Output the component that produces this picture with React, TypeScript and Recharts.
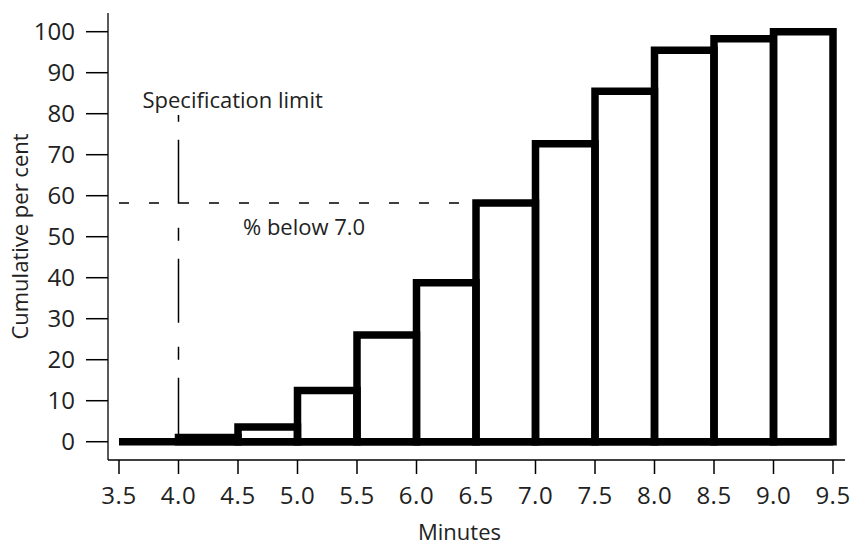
import React from 'react';
import { ComposedChart, XAxis, YAxis, ReferenceArea, ReferenceLine } from 'recharts';

// Cumulative frequency of minutes (bins of 0.5)
const binStarts = [3.5, 4.0, 4.5, 5.0, 5.5, 6.0, 6.5, 7.0, 7.5, 8.0, 8.5, 9.0];
const cumulativePercent = [0, 1, 3.6, 12.5, 26, 38.8, 58.2, 72.7, 85.5, 95.5, 98.3, 100];
const binWidth = 0.5;

const xTicks = [3.5, 4.0, 4.5, 5.0, 5.5, 6.0, 6.5, 7.0, 7.5, 8.0, 8.5, 9.0, 9.5];
const yTicks = [0, 10, 20, 30, 40, 50, 60, 70, 80, 90, 100];

const specLimit = 4.0;
const specLimitTop = 79.7;
const belowPercent = 58.2;
const belowLineStart = 3.5;
const belowLineEnd = 6.5;

const xDomain = [3.4076, 9.6008];
const yDomain = [-4.46, 104.56];

const FONT = "'Open Sans', sans-serif";
const TEXT = '#222';

const data = binStarts.map((x, i) => ({ x, x2: x + binWidth, y: cumulativePercent[i] }));

export default function App() {
  return (
    <div style={{ position: 'absolute', left: 0, top: 0, width: 855, height: 547, background: '#fff' }}>
      <ComposedChart
        width={855}
        height={547}
        data={data}
        margin={{ top: 13, right: 10, left: 0, bottom: 0 }}
      >
        <XAxis
          dataKey="x"
          type="number"
          domain={xDomain}
          allowDataOverflow
          ticks={xTicks}
          tickFormatter={(v: number) => v.toFixed(1)}
          interval={0}
          height={87}
          tickSize={14}
          tickMargin={13}
          axisLine={{ stroke: '#000', strokeWidth: 1.3 }}
          tickLine={{ stroke: '#000', strokeWidth: 1.5 }}
          tick={{ fontSize: 24, fill: TEXT, fontFamily: FONT, letterSpacing: 0.5 }}
          label={(p: any) => {
            const vb = p.viewBox;
            return (
              <text x={vb.x + vb.width / 2 - 17} y={vb.y + 80} textAnchor="middle" fontSize={22} fill={TEXT} fontFamily={FONT}>
                Minutes
              </text>
            );
          }}
        />
        <XAxis
          xAxisId="top"
          orientation="top"
          type="number"
          domain={xDomain}
          allowDataOverflow
          height={0}
          tick={false}
          tickLine={false}
          axisLine={{ stroke: '#000', strokeWidth: 1.3 }}
        />
        <YAxis
          type="number"
          domain={yDomain}
          allowDataOverflow
          ticks={yTicks}
          interval={0}
          width={108}
          tickSize={22}
          tickMargin={11}
          axisLine={{ stroke: '#000', strokeWidth: 1.3 }}
          tickLine={{ stroke: '#000', strokeWidth: 1.5 }}
          tick={{ fontSize: 24, fill: TEXT, fontFamily: FONT }}
          label={(p: any) => {
            const vb = p.viewBox;
            const x = vb.x + 28;
            const y = vb.y + vb.height / 2;
            return (
              <text x={x} y={y} transform={`rotate(-90 ${x} ${y})`} textAnchor="middle" fontSize={22} fill={TEXT} fontFamily={FONT}>
                Cumulative per cent
              </text>
            );
          }}
        />
        <YAxis
          yAxisId="right"
          orientation="right"
          type="number"
          domain={yDomain}
          allowDataOverflow
          width={0}
          tick={false}
          tickLine={false}
          axisLine={{ stroke: '#000', strokeWidth: 1.3 }}
        />

        <ReferenceLine
          segment={[{ x: specLimit, y: 0 }, { x: specLimit, y: specLimitTop }]}
          stroke="#000"
          strokeWidth={1.5}
          strokeDasharray="64 18 13 24"
          ifOverflow="visible"
          label={(p: any) => {
            const vb = p.viewBox;
            return (
              <text x={vb.x - 36} y={vb.y - 7} textAnchor="start" fontSize={22} fill={TEXT} fontFamily={FONT}>
                Specification limit
              </text>
            );
          }}
        />
        <ReferenceLine
          segment={[{ x: belowLineStart, y: belowPercent }, { x: belowLineEnd, y: belowPercent }]}
          stroke="#000"
          strokeWidth={1.5}
          strokeDasharray="10 20"
          ifOverflow="visible"
          label={(p: any) => {
            const vb = p.viewBox;
            return (
              <text x={vb.x + 124} y={vb.y + 32} textAnchor="start" fontSize={22} fill={TEXT} fontFamily={FONT}>
                % below 7.0
              </text>
            );
          }}
        />

        {data
          .filter((d) => d.y > 0)
          .map((d) => (
            <ReferenceArea
              key={d.x}
              x1={d.x}
              x2={d.x2}
              y1={0}
              y2={d.y}
              fill="none"
              fillOpacity={0}
              stroke="#000"
              strokeWidth={7.5}
              ifOverflow="visible"
            />
          ))}
        <ReferenceLine
          segment={[{ x: binStarts[0], y: 0 }, { x: binStarts[binStarts.length - 1] + binWidth, y: 0 }]}
          stroke="#000"
          strokeWidth={7.5}
          ifOverflow="visible"
        />
      </ComposedChart>
    </div>
  );
}
